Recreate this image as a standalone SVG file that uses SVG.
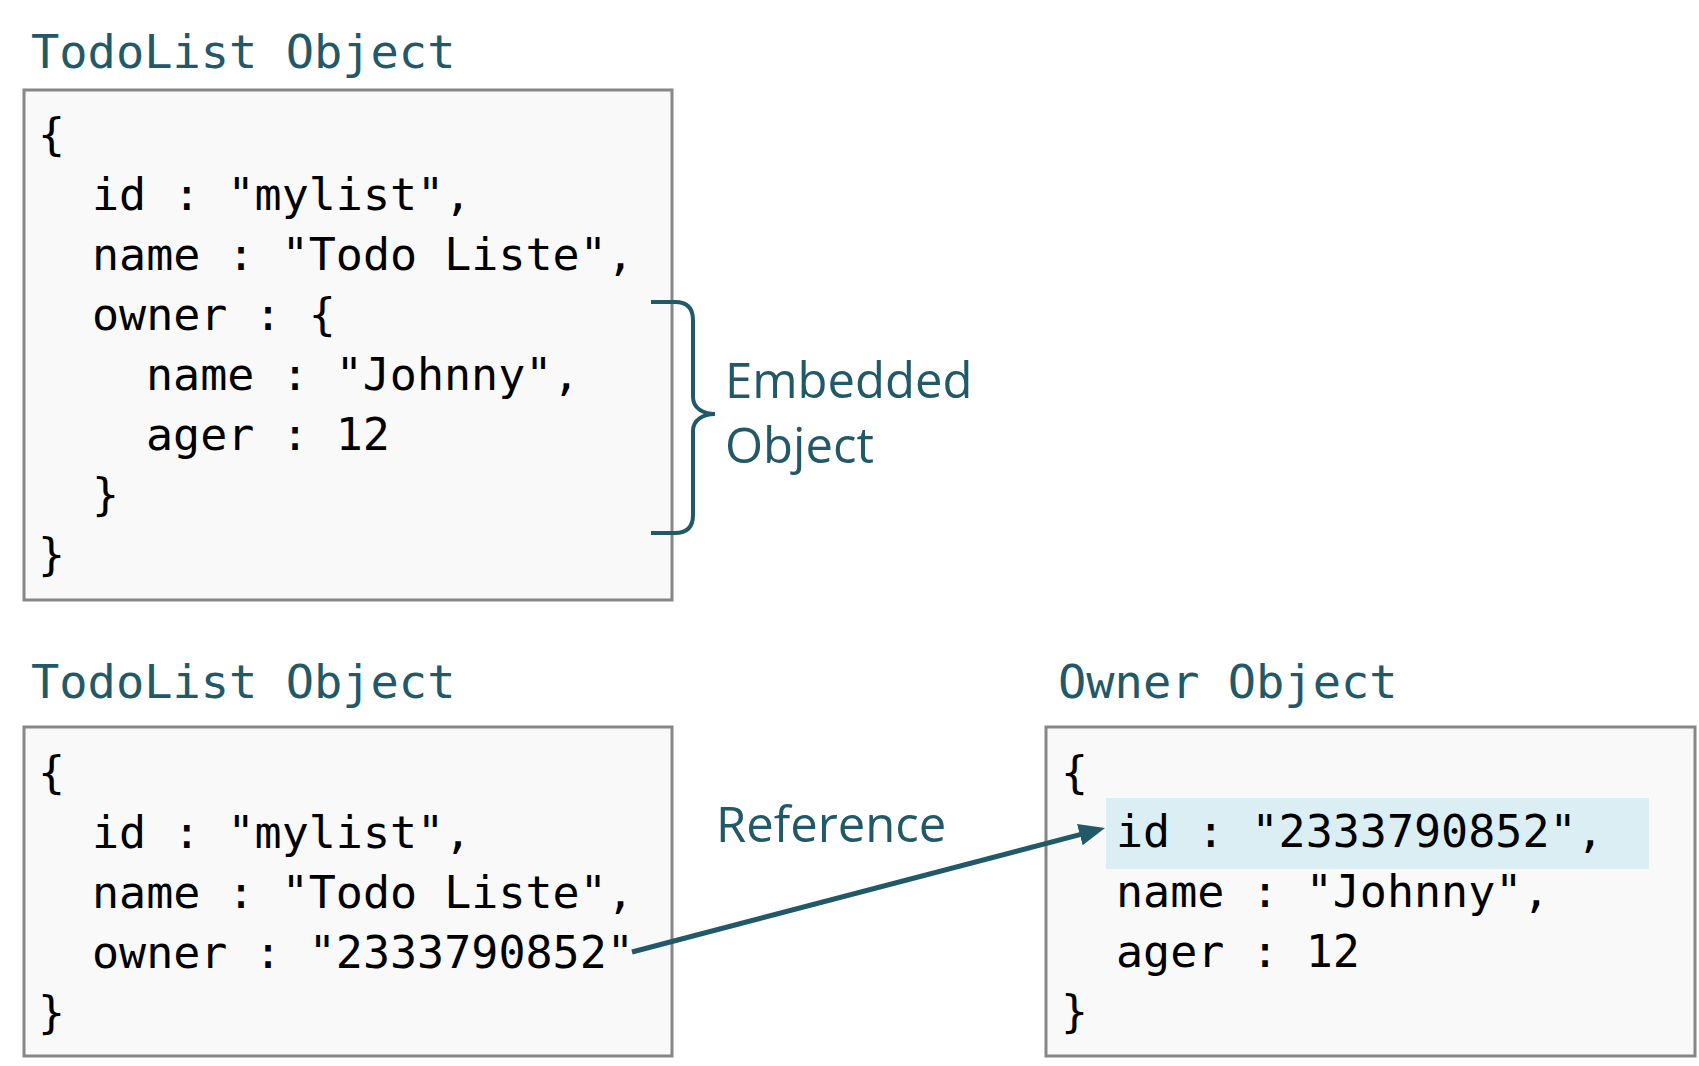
<svg xmlns="http://www.w3.org/2000/svg" width="1699" height="1066" viewBox="0 0 1699 1066">
<style>
.title{font-family:"DejaVu Sans Mono","Liberation Mono",monospace;font-size:47px;fill:#215968}
.code{font-family:"DejaVu Sans Mono","Liberation Mono",monospace;font-size:45px;fill:#000000;white-space:pre}
.label{font-family:"Open Sans","Noto Sans",sans-serif;font-size:49px;fill:#215968}
.box{fill:#f9f9f9;stroke:#878787;stroke-width:3}
.conn{fill:none;stroke:#215968;stroke-width:5}
</style>
<defs>
<marker id="arrow" viewBox="0 0 26 22" refX="4" refY="11" markerWidth="26" markerHeight="22" markerUnits="userSpaceOnUse" orient="auto">
<path d="M0,0 L26,11 L0,22 z" fill="#215968"/>
</marker>
</defs>
<rect width="1699" height="1066" fill="#ffffff"/>

<g id="todolist-embedded">
<text class="title" x="31" y="68">TodoList Object</text>
<rect class="box" x="24" y="90" width="648" height="510"/>
<text class="code" x="38" y="150">{</text>
<text class="code" x="92" y="210">id : "mylist",</text>
<text class="code" x="92" y="270">name : "Todo Liste",</text>
<text class="code" x="92" y="330">owner : {</text>
<text class="code" x="146" y="390">name : "Johnny",</text>
<text class="code" x="146" y="450">ager : 12</text>
<text class="code" x="92" y="510">}</text>
<text class="code" x="38" y="570">}</text>
</g>

<g id="embedded-label">
<path d="M651,302 H675 Q693,302 693,320 V397 C693,408 703,414 715,414 C703,414 693,420 693,431 V515 Q693,533 675,533 H651" fill="none" stroke="#215968" stroke-width="4"/>
<text class="label" x="725" y="398">Embedded</text>
<text class="label" x="725" y="463">Object</text>
</g>

<g id="todolist-reference">
<text class="title" x="31" y="698">TodoList Object</text>
<rect class="box" x="24" y="727" width="648" height="329"/>
<text class="code" x="38" y="788">{</text>
<text class="code" x="92" y="848">id : "mylist",</text>
<text class="code" x="92" y="908">name : "Todo Liste",</text>
<text class="code" x="92" y="968">owner : "2333790852"</text>
<text class="code" x="38" y="1028">}</text>
</g>

<g id="owner-object">
<text class="title" x="1058" y="698">Owner Object</text>
<rect class="box" x="1046" y="727" width="649" height="329"/>
<rect x="1106" y="798" width="543" height="71" fill="#dbeef4"/>
<text class="code" x="1061" y="788">{</text>
<text class="code" x="1116" y="847">id : "2333790852",</text>
<text class="code" x="1116" y="907">name : "Johnny",</text>
<text class="code" x="1116" y="967">ager : 12</text>
<text class="code" x="1061" y="1027">}</text>
</g>

<g id="connectors">
<line class="conn" x1="632" y1="952" x2="1083.7" y2="833.6" marker-end="url(#arrow)"/>
<text class="label" x="716" y="842">Reference</text>
</g>
</svg>
